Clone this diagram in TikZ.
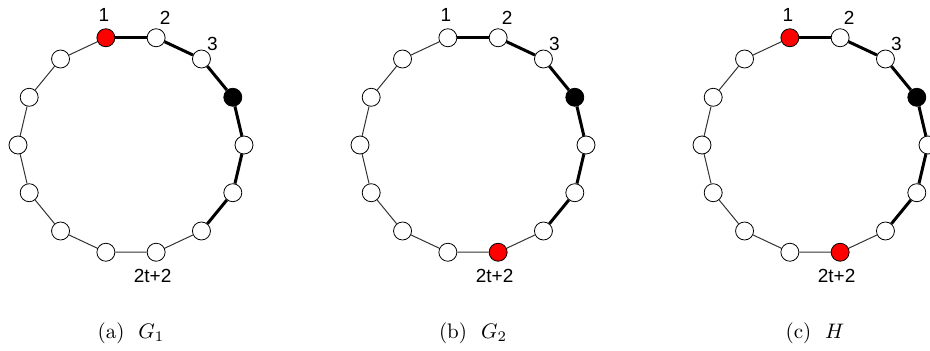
\documentclass[tikz,border=0pt]{standalone}
\usepackage{fontspec}
\newfontfamily\labelfont{Liberation Sans}
\usetikzlibrary{positioning,calc}
\begin{document}
\begin{tikzpicture}[
    x=1pt, y=1pt,
    vtx/.style={draw, circle, fill=white, minimum size=18pt, inner sep=0pt, line width=0.8pt},
    edge/.style={draw=black!80, line width=1pt},
    heavy/.style={draw=black, line width=3pt},
    lbl/.style={font=\labelfont\fontsize{19}{19}\selectfont, inner sep=0pt},
    captext/.style={font=\normalsize, scale=2.1, transform shape, anchor=base},
    % marked vertices
    a0/.style={fill=red}, a3/.style={fill=black},
    b3/.style={fill=black}, b7/.style={fill=red},
    c0/.style={fill=red}, c3/.style={fill=black}, c7/.style={fill=red},
]
\useasboundingbox (0,0) rectangle (930,351);

% Vertices of the three cycles
\foreach \g/\cx in {a/131, b/473, c/815} {
  \foreach \k in {0,...,13} {
    \pgfmathsetmacro\ang{102.857-25.714*\k}
    \node[vtx, \g\k/.try] (\g\k) at ($(\cx,206)+(\ang:113 and 110)$) {};
  }
}

% Edges (path 1 -- ... thick)
\foreach \g in {a,b,c} {
  \foreach \k in {0,...,5} {
    \pgfmathtruncatemacro\n{mod(\k+1,14)}
    \draw[heavy] (\g\k) -- (\g\n);
  }
  \foreach \k in {6,...,13} {
    \pgfmathtruncatemacro\n{mod(\k+1,14)}
    \draw[edge] (\g\k) -- (\g\n);
  }
}

% Vertex labels
\foreach \g in {a,b,c} {
  \node[lbl] (\g l1) at ($(\g0)+(-2,23)$) {1};
  \node[lbl] (\g l2) at ($(\g1)+(9,20)$) {2};
  \node[lbl] (\g l3) at ($(\g2)+(11,15)$) {3};
  \node[lbl] (\g l7) at ($(\g7)+(-3.5,-24)$) {2t+2};
}

% Captions
\node[captext] (capa) at (131,13) {(a)\hspace{0.33em} $G_1$};
\node[captext] (capb) at (473,13) {(b)\hspace{0.33em} $G_2$};
\node[captext] (capc) at (815,13) {(c)\hspace{0.33em} $H$};

\end{tikzpicture}
\end{document}
